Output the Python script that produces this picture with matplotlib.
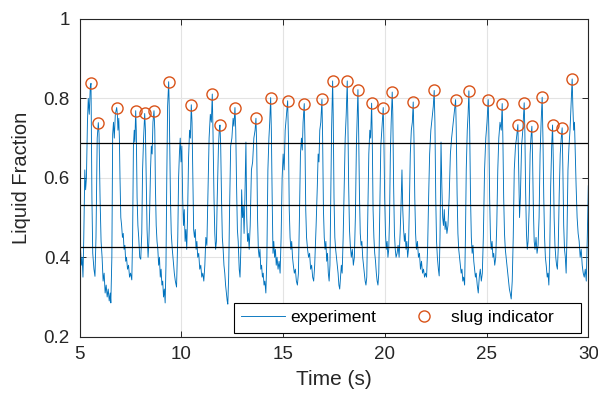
import matplotlib
matplotlib.use("Agg")
from matplotlib import pyplot as plt
from matplotlib.patches import Rectangle

# experiment trace
time_s = [
    5.00, 5.04, 5.08, 5.12, 5.16, 5.20, 5.25, 5.29, 5.33, 5.38, 5.42, 5.47,
    5.52, 5.555, 5.60, 5.64, 5.70, 5.75, 5.80, 5.86, 5.914, 5.95, 6.00, 6.05,
    6.10, 6.15, 6.20, 6.25, 6.30, 6.35, 6.40, 6.45, 6.50, 6.53, 6.58, 6.62,
    6.66, 6.70, 6.75, 6.818, 6.85, 6.88, 6.92, 6.95, 6.98, 7.02, 7.06, 7.10,
    7.14, 7.18, 7.22, 7.26, 7.30, 7.35, 7.40, 7.45, 7.50, 7.56, 7.60, 7.64,
    7.68, 7.71, 7.752, 7.78, 7.82, 7.86, 7.90, 7.95, 8.00, 8.05, 8.09, 8.14,
    8.194, 8.23, 8.27, 8.31, 8.36, 8.40, 8.44, 8.48, 8.52, 8.56, 8.60, 8.651,
    8.69, 8.72, 8.76, 8.80, 8.84, 8.88, 8.92, 8.96, 9.00, 9.04, 9.08, 9.12,
    9.16, 9.20, 9.24, 9.28, 9.32, 9.373, 9.40, 9.43, 9.46, 9.50, 9.55, 9.60,
    9.65, 9.70, 9.76, 9.82, 9.86, 9.90, 9.94, 9.98, 10.02, 10.06, 10.10, 10.14,
    10.18, 10.22, 10.26, 10.30, 10.35, 10.40, 10.44, 10.484, 10.52, 10.56, 10.60, 10.64,
    10.68, 10.72, 10.76, 10.80, 10.85, 10.90, 10.95, 11.00, 11.05, 11.10, 11.15, 11.20,
    11.25, 11.30, 11.36, 11.42, 11.47, 11.516, 11.55, 11.60, 11.64, 11.68, 11.72, 11.76,
    11.82, 11.86, 11.894, 11.93, 11.97, 12.01, 12.05, 12.09, 12.13, 12.17, 12.21, 12.25,
    12.28, 12.32, 12.36, 12.42, 12.48, 12.54, 12.58, 12.631, 12.67, 12.71, 12.75, 12.79,
    12.84, 12.88, 12.92, 12.96, 13.00, 13.04, 13.08, 13.12, 13.17, 13.21, 13.25, 13.29,
    13.33, 13.38, 13.44, 13.50, 13.56, 13.62, 13.663, 13.70, 13.74, 13.78, 13.82, 13.86,
    13.90, 13.94, 13.98, 14.02, 14.06, 14.10, 14.15, 14.20, 14.25, 14.30, 14.34, 14.386,
    14.42, 14.46, 14.50, 14.54, 14.58, 14.62, 14.66, 14.70, 14.75, 14.80, 14.85, 14.90,
    14.95, 15.00, 15.05, 15.10, 15.15, 15.221, 15.26, 15.30, 15.34, 15.38, 15.42, 15.46,
    15.50, 15.55, 15.60, 15.65, 15.70, 15.75, 15.80, 15.85, 15.90, 15.94, 15.98, 16.037,
    16.07, 16.11, 16.15, 16.20, 16.25, 16.30, 16.35, 16.40, 16.45, 16.50, 16.55, 16.62,
    16.68, 16.72, 16.76, 16.80, 16.85, 16.907, 16.94, 16.98, 17.02, 17.06, 17.10, 17.14,
    17.18, 17.22, 17.26, 17.30, 17.34, 17.38, 17.432, 17.46, 17.50, 17.54, 17.58, 17.62,
    17.66, 17.70, 17.74, 17.78, 17.82, 17.86, 17.90, 17.95, 18.00, 18.05, 18.10, 18.15,
    18.18, 18.22, 18.26, 18.30, 18.35, 18.40, 18.45, 18.50, 18.55, 18.60, 18.64, 18.676,
    18.71, 18.75, 18.79, 18.83, 18.87, 18.91, 18.95, 18.99, 19.03, 19.07, 19.11, 19.16,
    19.21, 19.26, 19.30, 19.349, 19.38, 19.42, 19.46, 19.50, 19.54, 19.58, 19.62, 19.66,
    19.70, 19.75, 19.80, 19.85, 19.919, 19.95, 19.99, 20.03, 20.07, 20.11, 20.15, 20.19,
    20.23, 20.27, 20.31, 20.361, 20.39, 20.43, 20.47, 20.51, 20.55, 20.60, 20.65, 20.70,
    20.75, 20.80, 20.84, 20.88, 20.92, 20.96, 21.00, 21.04, 21.08, 21.12, 21.16, 21.20,
    21.25, 21.30, 21.35, 21.393, 21.43, 21.47, 21.51, 21.55, 21.60, 21.65, 21.70, 21.75,
    21.80, 21.85, 21.90, 21.95, 22.00, 22.05, 22.10, 22.15, 22.20, 22.26, 22.32, 22.38,
    22.425, 22.46, 22.50, 22.54, 22.58, 22.63, 22.67, 22.71, 22.76, 22.80, 22.84, 22.88,
    22.92, 22.96, 23.00, 23.05, 23.10, 23.16, 23.22, 23.28, 23.34, 23.40, 23.477, 23.51,
    23.55, 23.59, 23.63, 23.67, 23.71, 23.75, 23.79, 23.83, 23.87, 23.92, 23.96, 24.00,
    24.05, 24.09, 24.13, 24.17, 24.21, 24.25, 24.29, 24.33, 24.37, 24.41, 24.45, 24.49,
    24.54, 24.59, 24.64, 24.69, 24.74, 24.79, 24.84, 24.90, 24.96, 25.02, 25.079, 25.11,
    25.15, 25.19, 25.23, 25.27, 25.31, 25.35, 25.40, 25.45, 25.50, 25.55, 25.60, 25.66,
    25.72, 25.767, 25.80, 25.84, 25.88, 25.92, 25.96, 26.00, 26.04, 26.08, 26.12, 26.16,
    26.21, 26.26, 26.31, 26.36, 26.42, 26.47, 26.538, 26.58, 26.62, 26.66, 26.72, 26.78,
    26.848, 26.88, 26.92, 26.96, 27.00, 27.04, 27.09, 27.14, 27.18, 27.226, 27.26, 27.30,
    27.34, 27.38, 27.43, 27.48, 27.53, 27.58, 27.63, 27.68, 27.732, 27.77, 27.81, 27.85,
    27.89, 27.93, 27.98, 28.02, 28.06, 28.10, 28.15, 28.20, 28.243, 28.28, 28.32, 28.36,
    28.40, 28.44, 28.48, 28.52, 28.57, 28.62, 28.67, 28.715, 28.75, 28.79, 28.83, 28.87,
    28.91, 28.95, 29.00, 29.05, 29.10, 29.15, 29.206, 29.24, 29.28, 29.32, 29.36, 29.40,
    29.45, 29.50, 29.55, 29.60, 29.65, 29.70, 29.75, 29.80, 29.85, 29.90, 29.95, 30.00,
]
liquid_frac = [
    0.47, 0.42, 0.38, 0.40, 0.35, 0.45, 0.62, 0.57, 0.60, 0.74, 0.80, 0.76,
    0.83, 0.838, 0.55, 0.41, 0.37, 0.352, 0.45, 0.70, 0.739, 0.71, 0.55, 0.44,
    0.40, 0.34, 0.36, 0.31, 0.33, 0.30, 0.32, 0.29, 0.31, 0.285, 0.40, 0.71,
    0.74, 0.70, 0.76, 0.777, 0.76, 0.72, 0.75, 0.70, 0.60, 0.50, 0.48, 0.45,
    0.46, 0.42, 0.43, 0.39, 0.40, 0.37, 0.38, 0.35, 0.36, 0.343, 0.45, 0.68,
    0.72, 0.69, 0.769, 0.72, 0.55, 0.48, 0.45, 0.40, 0.395, 0.46, 0.62, 0.70,
    0.762, 0.72, 0.60, 0.47, 0.40, 0.44, 0.52, 0.62, 0.68, 0.66, 0.74, 0.769,
    0.72, 0.58, 0.48, 0.44, 0.42, 0.38, 0.40, 0.35, 0.37, 0.33, 0.34, 0.30,
    0.32, 0.285, 0.38, 0.60, 0.78, 0.842, 0.78, 0.66, 0.55, 0.46, 0.42, 0.39,
    0.36, 0.34, 0.325, 0.45, 0.60, 0.66, 0.70, 0.64, 0.68, 0.55, 0.48, 0.52,
    0.44, 0.47, 0.42, 0.50, 0.65, 0.72, 0.70, 0.784, 0.74, 0.60, 0.47, 0.45,
    0.47, 0.42, 0.44, 0.40, 0.41, 0.37, 0.38, 0.35, 0.36, 0.34, 0.38, 0.45,
    0.43, 0.55, 0.70, 0.76, 0.74, 0.811, 0.72, 0.55, 0.46, 0.42, 0.44, 0.55,
    0.68, 0.72, 0.733, 0.68, 0.55, 0.45, 0.42, 0.38, 0.36, 0.33, 0.31, 0.29,
    0.282, 0.35, 0.50, 0.68, 0.70, 0.75, 0.73, 0.777, 0.72, 0.58, 0.47, 0.44,
    0.37, 0.35, 0.42, 0.57, 0.50, 0.53, 0.46, 0.55, 0.69, 0.50, 0.44, 0.46,
    0.42, 0.48, 0.62, 0.64, 0.70, 0.72, 0.75, 0.68, 0.50, 0.42, 0.40, 0.42,
    0.37, 0.38, 0.35, 0.36, 0.33, 0.34, 0.31, 0.40, 0.62, 0.70, 0.74, 0.802,
    0.72, 0.55, 0.41, 0.44, 0.40, 0.42, 0.38, 0.40, 0.37, 0.39, 0.36, 0.45,
    0.60, 0.66, 0.62, 0.72, 0.75, 0.794, 0.70, 0.52, 0.45, 0.42, 0.44, 0.40,
    0.38, 0.36, 0.37, 0.34, 0.33, 0.36, 0.50, 0.66, 0.70, 0.67, 0.74, 0.787,
    0.70, 0.52, 0.45, 0.42, 0.40, 0.41, 0.37, 0.38, 0.35, 0.34, 0.38, 0.48,
    0.58, 0.66, 0.64, 0.72, 0.74, 0.798, 0.70, 0.52, 0.45, 0.42, 0.44, 0.39,
    0.41, 0.36, 0.34, 0.38, 0.55, 0.72, 0.844, 0.76, 0.55, 0.45, 0.42, 0.40,
    0.38, 0.36, 0.33, 0.32, 0.35, 0.38, 0.36, 0.45, 0.58, 0.70, 0.76, 0.844,
    0.75, 0.58, 0.47, 0.43, 0.40, 0.42, 0.38, 0.40, 0.50, 0.68, 0.75, 0.822,
    0.72, 0.56, 0.46, 0.43, 0.44, 0.40, 0.38, 0.36, 0.34, 0.33, 0.35, 0.50,
    0.66, 0.72, 0.70, 0.788, 0.70, 0.52, 0.45, 0.41, 0.39, 0.36, 0.34, 0.33,
    0.36, 0.52, 0.68, 0.72, 0.777, 0.70, 0.55, 0.46, 0.42, 0.44, 0.40, 0.42,
    0.50, 0.66, 0.74, 0.816, 0.76, 0.58, 0.46, 0.42, 0.40, 0.41, 0.43, 0.40,
    0.46, 0.54, 0.62, 0.52, 0.47, 0.44, 0.46, 0.42, 0.44, 0.40, 0.42, 0.52,
    0.66, 0.72, 0.74, 0.791, 0.70, 0.55, 0.46, 0.42, 0.44, 0.40, 0.41, 0.37,
    0.39, 0.36, 0.37, 0.35, 0.36, 0.35, 0.42, 0.55, 0.66, 0.72, 0.75, 0.78,
    0.82, 0.74, 0.55, 0.44, 0.40, 0.37, 0.353, 0.45, 0.69, 0.58, 0.50, 0.48,
    0.52, 0.47, 0.49, 0.46, 0.48, 0.55, 0.66, 0.70, 0.73, 0.76, 0.797, 0.72,
    0.56, 0.46, 0.42, 0.40, 0.38, 0.36, 0.37, 0.34, 0.35, 0.33, 0.45, 0.62,
    0.72, 0.76, 0.819, 0.72, 0.55, 0.45, 0.41, 0.43, 0.39, 0.37, 0.35, 0.36,
    0.33, 0.31, 0.35, 0.37, 0.34, 0.36, 0.45, 0.62, 0.70, 0.74, 0.797, 0.72,
    0.55, 0.45, 0.42, 0.44, 0.40, 0.41, 0.38, 0.40, 0.48, 0.62, 0.70, 0.74,
    0.72, 0.787, 0.70, 0.55, 0.46, 0.42, 0.40, 0.38, 0.36, 0.34, 0.32, 0.31,
    0.295, 0.34, 0.45, 0.62, 0.68, 0.70, 0.734, 0.62, 0.50, 0.55, 0.68, 0.72,
    0.789, 0.72, 0.56, 0.46, 0.42, 0.44, 0.52, 0.66, 0.70, 0.73, 0.65, 0.52,
    0.44, 0.42, 0.45, 0.41, 0.43, 0.50, 0.66, 0.74, 0.803, 0.70, 0.55, 0.45,
    0.40, 0.38, 0.35, 0.36, 0.33, 0.40, 0.58, 0.68, 0.733, 0.64, 0.50, 0.43,
    0.40, 0.38, 0.37, 0.42, 0.56, 0.66, 0.70, 0.726, 0.62, 0.48, 0.42, 0.40,
    0.36, 0.45, 0.62, 0.68, 0.72, 0.78, 0.849, 0.78, 0.72, 0.74, 0.66, 0.58,
    0.50, 0.46, 0.44, 0.40, 0.42, 0.38, 0.36, 0.35, 0.37, 0.34, 0.45, 0.58,
]

# slug indicator peaks
slug_t = [5.555, 5.914, 6.818, 7.752, 8.194, 8.651, 9.373, 10.484, 11.516, 11.894,
          12.631, 13.663, 14.386, 15.221, 16.037, 16.907, 17.432, 18.15, 18.676, 19.349,
          19.919, 20.361, 21.393, 22.425, 23.477, 24.13, 25.079, 25.767, 26.538, 26.848,
          27.226, 27.732, 28.243, 28.715, 29.206]
slug_y = [0.838, 0.739, 0.777, 0.769, 0.762, 0.769, 0.842, 0.784, 0.811, 0.733,
          0.777, 0.75, 0.802, 0.794, 0.787, 0.798, 0.844, 0.844, 0.822, 0.788,
          0.777, 0.816, 0.791, 0.82, 0.797, 0.819, 0.797, 0.787, 0.734, 0.789,
          0.73, 0.803, 0.733, 0.726, 0.849]

# horizontal reference levels
levels = [0.687, 0.532, 0.426]

plt.rcParams["font.family"] = ["Liberation Sans", "DejaVu Sans"]
axis_gray = "#262626"

fig = plt.figure(figsize=(5.98, 3.97), dpi=100)
ax = fig.add_axes([0.1333, 0.1519, 0.8505, 0.8003])

ax.plot(time_s, liquid_frac, color="#0072BD", linewidth=0.65, label="experiment")
ax.plot(slug_t, slug_y, linestyle="none", marker="o", markersize=8,
        markerfacecolor="none", markeredgecolor="#D95319", markeredgewidth=1.0,
        label="slug indicator")
for lv in levels:
    ax.axhline(lv, color="black", linewidth=0.9)

ax.set_xlim(5, 30)
ax.set_ylim(0.2, 1)
ax.set_xticks([5, 10, 15, 20, 25, 30])
ax.set_yticks([0.2, 0.4, 0.6, 0.8, 1.0])
ax.set_yticklabels(["0.2", "0.4", "0.6", "0.8", "1"])
ax.grid(True, color="#e3e3e3", linewidth=0.8)
ax.set_axisbelow(True)
ax.tick_params(direction="in", top=True, right=True, length=4, width=0.7,
               labelsize=13.5, colors=axis_gray, pad=7)
for sp in ax.spines.values():
    sp.set_color(axis_gray)
    sp.set_linewidth(0.8)

ax.set_xlabel("Time (s)", fontsize=15, color=axis_gray, labelpad=5)
ax.set_ylabel("Liquid Fraction", fontsize=14.5, color=axis_gray, labelpad=9)

# legend box (MATLAB style, extra room on the right)
box = Rectangle((0.303, 0.0126), 0.682, 0.094, transform=ax.transAxes,
                facecolor="white", edgecolor="black", linewidth=0.8, zorder=4)
ax.add_patch(box)
leg = ax.legend(loc="center left", bbox_to_anchor=(0.3166, 0.0598), ncol=2,
                fontsize=12.5, frameon=False, handlelength=2.53,
                handletextpad=0.3, columnspacing=1.5, borderpad=0,
                borderaxespad=0)
leg.set_zorder(5)

plt.savefig("out.png", dpi=100)
